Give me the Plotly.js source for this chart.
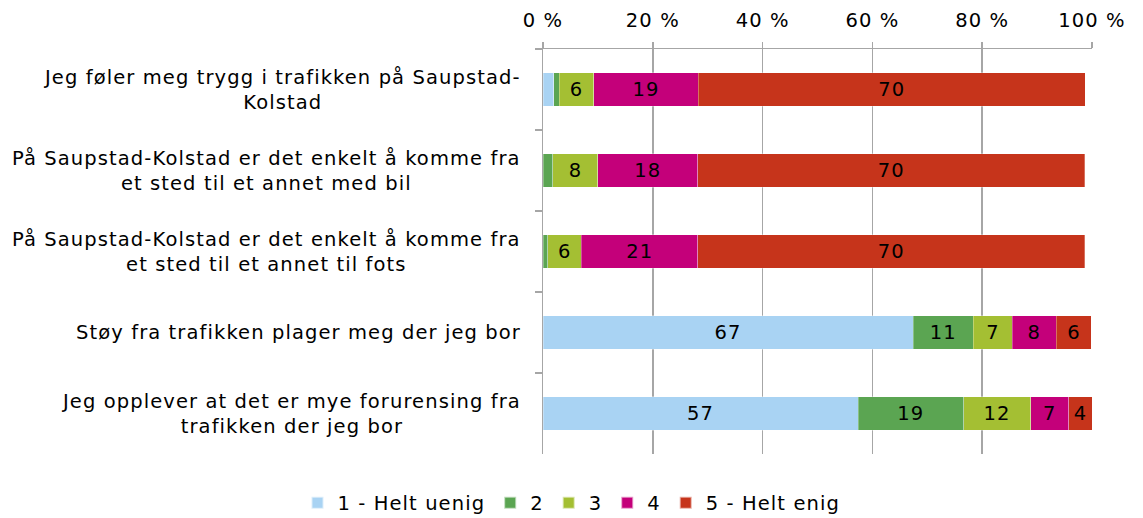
<!DOCTYPE html>
<html>
<head>
<meta charset="utf-8">
<script src="https://cdn.plot.ly/plotly-3.0.1.min.js"></script>
<style>
html,body{margin:0;padding:0;background:#fff;}
#chart{width:1143px;height:518px;}
text{letter-spacing:1.1px;}
</style>
</head>
<body>
<div id="chart"></div>
<script>
const categories = [
  "Jeg føler meg trygg i trafikken på Saupstad-<br>Kolstad",
  "På Saupstad-Kolstad er det enkelt å komme fra<br>et sted til et annet med bil",
  "På Saupstad-Kolstad er det enkelt å komme fra<br>et sted til et annet til fots",
  "Støy fra trafikken plager meg der jeg bor",
  "Jeg opplever at det er mye forurensing fra<br>trafikken der jeg bor"
];
const seriesNames = ["1 - Helt uenig", "2", "3", "4", "5 - Helt enig"];
const s1 = [2.0, 0.0, 0.0, 67.4, 57.4];
const s2 = [1.0, 1.8, 0.9, 11.0, 19.2];
const s3 = [6.2, 8.2, 6.1, 7.1, 12.2];
const s4 = [19.1, 18.2, 21.2, 8.0, 7.0];
const s5 = [70.45, 70.45, 70.45, 6.4, 4.2];
const seriesValues = [s1, s2, s3, s4, s5];
const colors = ["#a9d3f3", "#5ba552", "#a4bf33", "#c4007a", "#c6341b"];
const xTicks = [0, 20, 40, 60, 80, 100];

const FONT = "DejaVu Sans, Verdana, sans-serif";
const FS = 19.5;
const ids = categories.map((c, i) => "c" + i);

const traces = seriesValues.map((vals, k) => ({
  type: "bar",
  orientation: "h",
  name: seriesNames[k],
  y: ids,
  x: vals,
  text: vals.map(v => v >= 3 ? String(Math.round(v)) : ""),
  texttemplate: "%{text}",
  textposition: "inside",
  insidetextanchor: "middle",
  textangle: 0,
  constraintext: "none",
  textfont: {family: FONT, size: FS, color: "#000"},
  marker: {color: colors[k], line: {color: "rgba(255,255,255,0.6)", width: 0.5}},
  width: 0.41,
  hoverinfo: "skip"
}));

const annotations = categories.map((c, i) => ({
  xref: "paper", yref: "y",
  x: 0, y: ids[i],
  xanchor: "right", yanchor: "middle",
  xshift: -20,
  align: "center",
  showarrow: false,
  text: c,
  font: {family: FONT, size: FS, color: "#000"}
}));

const layout = {
  width: 1143, height: 518,
  margin: {l: 543, r: 51, t: 49, b: 64, pad: 0},
  paper_bgcolor: "#fff", plot_bgcolor: "#fff",
  barmode: "stack",
  showlegend: true,
  legend: {
    orientation: "h", x: 0.5, xref: "container", xanchor: "center",
    y: 0.029, yref: "container", yanchor: "middle",
    font: {family: FONT, size: FS, color: "#000"},
    traceorder: "normal", itemwidth: 30, itemsizing: "constant"
  },
  xaxis: {
    side: "top", range: [0, 100],
    tickvals: xTicks, ticktext: xTicks.map(v => v + " %"),
    showgrid: true, gridcolor: "#a6a6a6", gridwidth: 1.5,
    showline: true, linecolor: "#a6a6a6", linewidth: 1.5,
    ticks: "outside", ticklen: 6, tickcolor: "#a6a6a6", tickwidth: 1.5,
    ticklabelstandoff: 7,
    zeroline: false,
    tickfont: {family: FONT, size: FS, color: "#000"},
    fixedrange: true
  },
  yaxis: {
    type: "category",
    categoryorder: "array", categoryarray: ids,
    autorange: "reversed",
    showticklabels: false,
    tickson: "boundaries",
    ticks: "outside", ticklen: 7, tickcolor: "#a6a6a6", tickwidth: 1.5,
    showline: true, linecolor: "#a6a6a6", linewidth: 1.5,
    showgrid: false, zeroline: false,
    fixedrange: true
  },
  annotations: annotations,
  font: {family: FONT, size: FS, color: "#000"}
};

Plotly.newPlot("chart", traces, layout, {displayModeBar: false, staticPlot: true});
</script>
</body>
</html>
